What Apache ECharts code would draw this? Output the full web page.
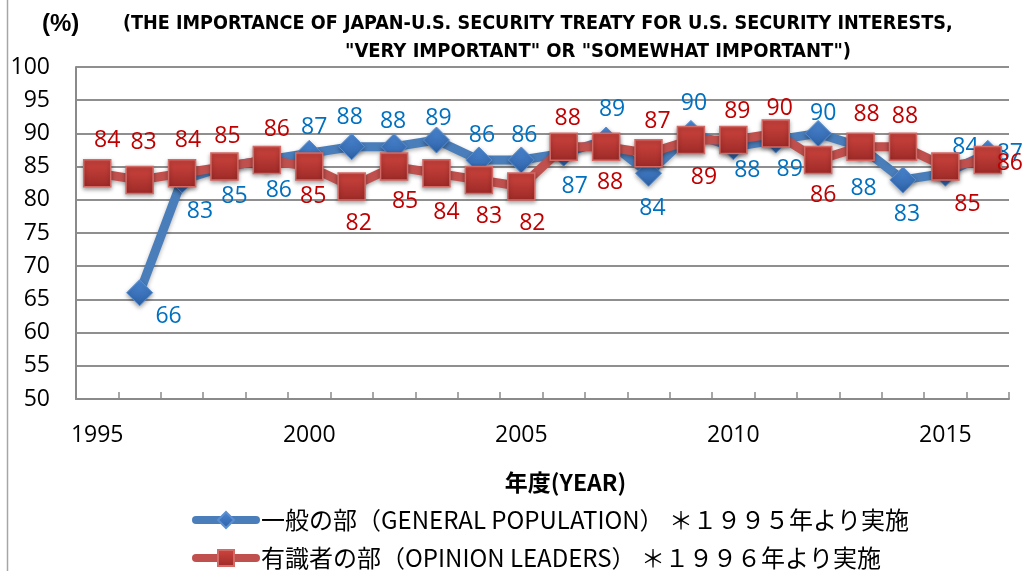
<!DOCTYPE html>
<html>
<head>
<meta charset="utf-8">
<script src="https://cdn.jsdelivr.net/npm/echarts@6/dist/echarts.min.js"></script>
<style>
  html, body { margin: 0; padding: 0; background: #fff; }
  #chart { width: 1025px; height: 571px; }
</style>
</head>
<body>
<div id="chart"></div>
<script>
// ---- data ----
const years = ['1995','1996','1997','1998','1999','2000','2001','2002','2003','2004','2005',
               '2006','2007','2008','2009','2010','2011','2012','2013','2014','2015','2016'];
const generalPopulation = [null, 66, 83, 85, 86, 87, 88, 88, 89, 86, 86,
                           87, 89, 84, 90, 88, 89, 90, 88, 83, 84, 87];
const opinionLeaders = [84, 83, 84, 85, 86, 85, 82, 85, 84, 83, 82,
                        88, 88, 87, 89, 89, 90, 86, 88, 88, 85, 86];
const yTicks = { min: 50, max: 100, interval: 5 };
const seriesNames = ['一般の部（GENERAL POPULATION） ＊１９９５年より実施',
                     '有識者の部（OPINION LEADERS） ＊１９９６年より実施'];
const titleLine1 = '(THE IMPORTANCE OF JAPAN-U.S. SECURITY TREATY FOR U.S. SECURITY INTERESTS,';
const titleLine2 = '"VERY IMPORTANT" OR "SOMEWHAT IMPORTANT")';
const unitLabel = '(%)';
const xAxisName = '年度(YEAR)';

// ---- label layout (offsets from the marker centre, px) ----
const gpLabelOffsets = [null,[29,24],[18,32],[10,30],[12,30],[5,-26],[-2,-29],[-1,-25],[2,-22],[3,-25],[3,-25],
  [11,33],[6,-31],[4,35],[3,-30],[14,24],[14,29],[5,-20],[3,42],[4,35],[20,-26],[22,0]];
const olLabelOffsets = [[10,-33],[4,-37],[6,-33],[3,-30],[10,-31],[4,30],[7,37],[11,35],[10,39],[10,37],[11,37],
  [4,-28],[4,36],[9,-32],[13,37],[4,-29],[4,-25],[5,35],[6,-32],[2,-30],[22,38],[22,3]];

function withLabels(values, offsets) {
  return values.map((v, i) => {
    if (v === null) return '-';
    return { value: v, label: { offset: offsets[i] } };
  });
}

const chart = echarts.init(document.getElementById('chart'), null, { renderer: 'canvas' });
const labelFont = '"Open Sans", "Noto Sans", sans-serif';
const cjk = '"Noto Sans CJK JP", "Noto Sans", sans-serif';
const narrow = '"Liberation Sans Narrow", "DejaVu Sans Condensed", sans-serif';

chart.setOption({
  animation: false,
  backgroundColor: '#ffffff',
  title: [
    { text: titleLine1, left: 118, top: 9,
      textStyle: { fontFamily: narrow, fontWeight: 'bold', fontSize: 19.6, color: '#000' } },
    { text: titleLine2, left: 340, top: 37,
      textStyle: { fontFamily: narrow, fontWeight: 'bold', fontSize: 20, color: '#000' } },
    { text: unitLabel, left: 37, top: 7,
      textStyle: { fontFamily: '"Liberation Sans", sans-serif', fontWeight: 'bold', fontSize: 24, color: '#000' } }
  ],
  graphic: [
    { type: 'line', shape: { x1: 7.5, y1: 0, x2: 7.5, y2: 571 }, style: { stroke: '#a6a6a6', lineWidth: 1.5 }, silent: true }
  ],
  legend: {
    orient: 'vertical',
    left: 192,
    top: 508,
    padding: 0,
    height: 63,
    itemWidth: 60,
    itemHeight: 20,
    itemGap: 14,
    lineStyle: { width: 8, cap: 'round' },
    textStyle: { fontFamily: cjk, fontSize: 24, color: '#000', lineHeight: 24 },
    data: seriesNames
  },
  grid: { left: 76, right: 16, top: 67, bottom: 172, containLabel: false },
  xAxis: {
    type: 'category',
    data: years,
    boundaryGap: true,
    name: xAxisName,
    nameLocation: 'middle',
    nameGap: 72,
    nameTextStyle: { fontFamily: cjk, fontWeight: 'bold', fontSize: 23, color: '#000', padding: [0, 0, 0, 46] },
    axisLine: { lineStyle: { color: '#8a8a8a', width: 2 } },
    axisTick: { show: true, interval: 0, inside: true, length: 7, lineStyle: { color: '#8a8a8a', width: 1.5 } },
    axisLabel: { interval: 4, fontFamily: labelFont, fontSize: 23, color: '#000', margin: 25 },
    splitLine: { show: false }
  },
  yAxis: {
    type: 'value',
    min: yTicks.min,
    max: yTicks.max,
    interval: yTicks.interval,
    axisLine: { show: true, lineStyle: { color: '#8a8a8a', width: 2 } },
    axisTick: { show: false },
    axisLabel: { fontFamily: labelFont, fontSize: 23, color: '#000', margin: 26 },
    splitLine: { show: true, lineStyle: { color: '#8f8f8f', width: 2 } }
  },
  series: [
    {
      name: seriesNames[0],
      type: 'line',
      data: withLabels(generalPopulation, gpLabelOffsets),
      connectNulls: false,
      symbol: 'diamond',
      symbolSize: 26,
      lineStyle: { color: '#4a7ebb', width: 9, cap: 'round', join: 'round',
                   shadowColor: 'rgba(0,0,0,0.3)', shadowBlur: 4, shadowOffsetY: 2 },
      itemStyle: {
        color: new echarts.graphic.LinearGradient(0, 0, 0, 1, [
          { offset: 0, color: '#4d8ad6' }, { offset: 1, color: '#2c5fa3' }]),
        borderColor: '#5b8fcf', borderWidth: 1,
        shadowColor: 'rgba(0,0,0,0.35)', shadowBlur: 4, shadowOffsetY: 2
      },
      label: { show: true, position: 'inside', fontFamily: labelFont, fontSize: 23, color: '#0070c0' },
      z: 2
    },
    {
      name: seriesNames[1],
      type: 'line',
      data: withLabels(opinionLeaders, olLabelOffsets),
      symbol: 'rect',
      symbolSize: 27,
      lineStyle: { color: '#c0504d', width: 9, cap: 'round', join: 'round',
                   shadowColor: 'rgba(0,0,0,0.3)', shadowBlur: 4, shadowOffsetY: 2 },
      itemStyle: {
        color: new echarts.graphic.LinearGradient(0, 0, 0, 1, [
          { offset: 0, color: '#d0453f' }, { offset: 1, color: '#9c2a27' }]),
        borderColor: '#d46a66', borderWidth: 1.5,
        shadowColor: 'rgba(0,0,0,0.35)', shadowBlur: 4, shadowOffsetY: 2
      },
      label: { show: true, position: 'inside', fontFamily: labelFont, fontSize: 23, color: '#c00000' },
      z: 3
    }
  ]
});
</script>
</body>
</html>
